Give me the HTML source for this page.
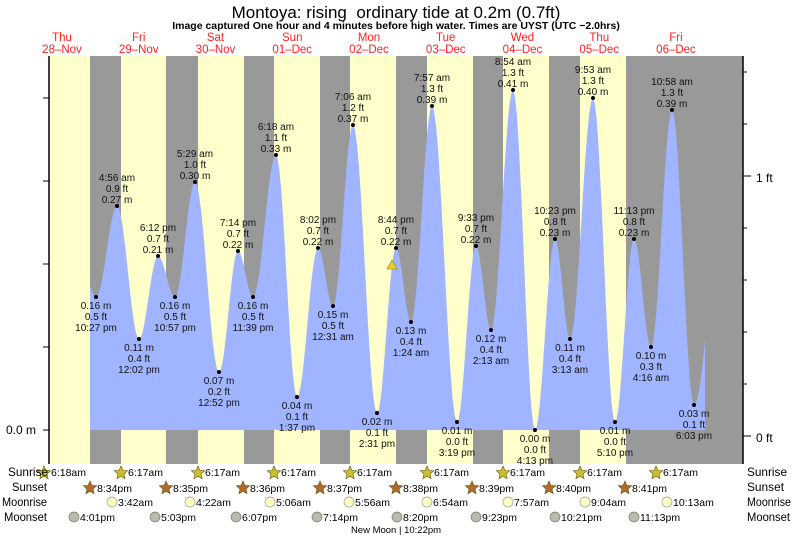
<!DOCTYPE html>
<html><head><meta charset="utf-8"><style>
body{margin:0;background:#fff;}
svg{display:block;font-family:"Liberation Sans",sans-serif;}
</style></head><body>
<svg id="s" width="793" height="538" xmlns="http://www.w3.org/2000/svg">
<rect width="793" height="538" fill="#fff"/>
<text x="396" y="18" font-size="17" text-anchor="middle" fill="#000">Montoya: rising&#160; ordinary tide at 0.2m (0.7ft)</text>
<text x="396" y="29" font-size="10.5" font-weight="bold" text-anchor="middle">Image captured One hour and 4 minutes before high water. Times are UYST (UTC −2.0hrs)</text>
<g id="bands"></g>
<path id="water" fill="#a0b4ff"/>
<g id="pts" font-size="10" text-anchor="middle" fill="#111"></g>
<line x1="49" y1="56" x2="49" y2="464" stroke="#000" stroke-width="1.5"/>
<line x1="743" y1="56" x2="743" y2="464" stroke="#000" stroke-width="1.5"/>
<g id="ticks" stroke="#000"></g>
<text x="36" y="434" font-size="12" text-anchor="end">0.0 m</text>
<text x="756" y="182" font-size="12">1 ft</text>
<text x="756" y="442" font-size="12">0 ft</text>
<polygon points="392,260 387,269 397,269" fill="#e8d030" stroke="#a08000" stroke-width="0.6"/>
<g id="bot" font-size="10.5"></g>
<g font-size="12" fill="#000">
<text x="747" y="476" textLength="40" lengthAdjust="spacingAndGlyphs">Sunrise</text><text x="747" y="491" textLength="37" lengthAdjust="spacingAndGlyphs">Sunset</text><text x="747" y="506" textLength="44" lengthAdjust="spacingAndGlyphs">Moonrise</text><text x="747" y="521" textLength="43" lengthAdjust="spacingAndGlyphs">Moonset</text>
<text x="8" y="476" textLength="40" lengthAdjust="spacingAndGlyphs">Sunrise</text><text x="12" y="491" textLength="35" lengthAdjust="spacingAndGlyphs">Sunset</text><text x="2" y="506" textLength="45" lengthAdjust="spacingAndGlyphs">Moonrise</text><text x="4" y="521" textLength="43" lengthAdjust="spacingAndGlyphs">Moonset</text>
</g>
<text x="396" y="533" font-size="9.5" text-anchor="middle">New Moon | 10:22pm</text>
</svg>
<script>
const NS="http://www.w3.org/2000/svg";
function el(p,t,a,txt){const e=document.createElementNS(NS,t);for(const k in a)e.setAttribute(k,a[k]);if(txt!=null)e.textContent=txt;p.appendChild(e);return e;}
const s=document.getElementById('s');
const b=document.getElementById('bands');
const edges=[49,90,121,166,198,244,274,320,350,396,427,473,503,549,580,626,743];
for(let i=0;i<edges.length-1;i++)el(b,'rect',{x:edges[i],y:56,width:edges[i+1]-edges[i],height:408,fill:i%2==0?'#ffffcc':'#999999'});
const days=[["Thu","28–Nov"],["Fri","29–Nov"],["Sat","30–Nov"],["Sun","01–Dec"],["Mon","02–Dec"],["Tue","03–Dec"],["Wed","04–Dec"],["Thu","05–Dec"],["Fri","06–Dec"]];
days.forEach((d,i)=>{const x=62+i*76.75;el(s,'text',{x:x,y:41,'font-size':11.5,'text-anchor':'middle',fill:'#ff2020'},d[0]);el(s,'text',{x:x,y:53,'font-size':11.5,'text-anchor':'middle',fill:'#ff2020'},d[1]);});
const P=[[96,297,"0.16 m","0.5 ft","10:27 pm"],[117,206,"4:56 am","0.9 ft","0.27 m"],[139,339,"0.11 m","0.4 ft","12:02 pm"],[158,256,"6:12 pm","0.7 ft","0.21 m"],[175,297,"0.16 m","0.5 ft","10:57 pm"],[195,182,"5:29 am","1.0 ft","0.30 m"],[219,372,"0.07 m","0.2 ft","12:52 pm"],[238,251,"7:14 pm","0.7 ft","0.22 m"],[253,297,"0.16 m","0.5 ft","11:39 pm"],[276,155,"6:18 am","1.1 ft","0.33 m"],[297,397,"0.04 m","0.1 ft","1:37 pm"],[318,248,"8:02 pm","0.7 ft","0.22 m"],[333,306,"0.15 m","0.5 ft","12:31 am"],[353,125,"7:06 am","1.2 ft","0.37 m"],[377,413,"0.02 m","0.1 ft","2:31 pm"],[396,248,"8:44 pm","0.7 ft","0.22 m"],[411,322,"0.13 m","0.4 ft","1:24 am"],[432,106,"7:57 am","1.3 ft","0.39 m"],[457,422,"0.01 m","0.0 ft","3:19 pm"],[476,246,"9:33 pm","0.7 ft","0.22 m"],[491,330,"0.12 m","0.4 ft","2:13 am"],[513,90,"8:54 am","1.3 ft","0.41 m"],[535,430,"0.00 m","0.0 ft","4:13 pm"],[555,239,"10:23 pm","0.8 ft","0.23 m"],[570,339,"0.11 m","0.4 ft","3:13 am"],[593,98,"9:53 am","1.3 ft","0.40 m"],[615,422,"0.01 m","0.0 ft","5:10 pm"],[634,239,"11:13 pm","0.8 ft","0.23 m"],[651,347,"0.10 m","0.3 ft","4:16 am"],[672,110,"10:58 am","1.3 ft","0.39 m"],[694,405,"0.03 m","0.1 ft","6:03 pm"]];
let d="M90,430 L90,286 ";
for(let x=91;x<=96;x++){const t=(x-90)/6;d+=`L${x},${(286+11*Math.sin(Math.PI/2*t)).toFixed(1)} `;}
for(let i=0;i<P.length-1;i++){const [x0,y0]=P[i],[x1,y1]=P[i+1];for(let k=0;k<=12;k++){const t=k/12;const x=x0+(x1-x0)*t;const y=(y0+y1)/2+(y0-y1)/2*Math.cos(Math.PI*t);d+=`L${x.toFixed(1)},${y.toFixed(1)} `;}}
for(let x=695;x<=705;x++){const t=(x-694)/36;d+=`L${x},${((405+100)/2+(405-100)/2*Math.cos(Math.PI*t)).toFixed(1)} `;}
d+="L705,430 Z";
document.getElementById('water').setAttribute('d',d);
const g=document.getElementById('pts');
P.forEach(p=>{const [x,y,a,bb,c]=p;el(g,'circle',{cx:x,cy:y,r:2,fill:'#000'});const low=a.endsWith(" m");
if(low){el(g,'text',{x:x,y:y+12},a);el(g,'text',{x:x,y:y+23},bb);el(g,'text',{x:x,y:y+34},c);}
else{el(g,'text',{x:x,y:y-25},a);el(g,'text',{x:x,y:y-14},bb);el(g,'text',{x:x,y:y-3},c);}});
const tk=document.getElementById('ticks');
for(let k=0;k<5;k++){const y=430-k*83;el(tk,'line',{x1:43,y1:y,x2:49,y2:y});}
for(let k=0;k<8;k++){const y=436-k*52;el(tk,'line',{x1:743,y1:y,x2:(k==0||k==5)?751:747,y2:y});}
const bot=document.getElementById('bot');
function star(x,y,fill){let pts="";for(let i=0;i<10;i++){const r=i%2?3.2:7;const a=-Math.PI/2+i*Math.PI/5;pts+=(x+r*Math.cos(a)).toFixed(1)+","+(y+r*Math.sin(a)).toFixed(1)+" ";}el(bot,'polygon',{points:pts,fill:fill,stroke:'#665500','stroke-width':0.6});}
const sr=[44,121,198,274,350,427,503,580,656],srT=["6:18am","6:17am","6:17am","6:17am","6:17am","6:17am","6:17am","6:17am","6:17am"];
sr.forEach((x,i)=>{star(x,473,'#c8c030');el(bot,'text',{x:x+7,y:476},srT[i]);});
const ss=[90,166,243,320,396,472,549,625],ssT=["8:34pm","8:35pm","8:36pm","8:37pm","8:38pm","8:39pm","8:40pm","8:41pm"];
ss.forEach((x,i)=>{star(x,488,'#b06a30');el(bot,'text',{x:x+7,y:492},ssT[i]);});
const mr=[112,190,270,349,427,508,585,667],mrT=["3:42am","4:22am","5:06am","5:56am","6:54am","7:57am","9:04am","10:13am"];
mr.forEach((x,i)=>{el(bot,'circle',{cx:x,cy:502,r:5,fill:'#ffffc0',stroke:'#999','stroke-width':0.7});el(bot,'text',{x:x+6,y:506},mrT[i]);});
const ms=[74,155,236,317,397,476,555,634],msT=["4:01pm","5:03pm","6:07pm","7:14pm","8:20pm","9:23pm","10:21pm","11:13pm"];
ms.forEach((x,i)=>{el(bot,'circle',{cx:x,cy:517,r:5,fill:'#bbbbaa',stroke:'#777','stroke-width':0.7});el(bot,'text',{x:x+6,y:521},msT[i]);});
</script>
</body></html>
